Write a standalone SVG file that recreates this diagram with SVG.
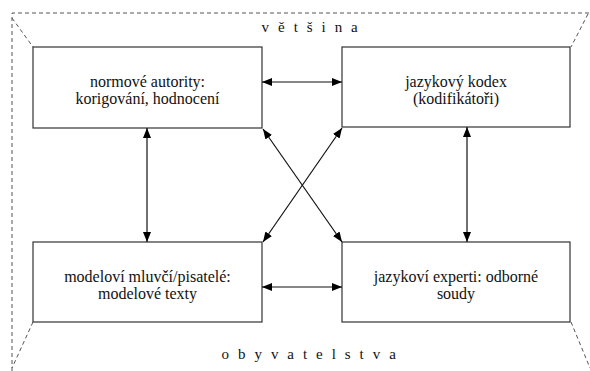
<svg xmlns="http://www.w3.org/2000/svg" width="590" height="371" viewBox="0 0 590 371">
<style>
.box{fill:#fff;stroke:#333;stroke-width:1.2}
.dash{fill:none;stroke:#555;stroke-width:1;stroke-dasharray:4,3}
.t{font-family:"Liberation Serif","Times New Roman",serif;font-size:16px;fill:#111;text-anchor:middle}
.sp{font-family:"Liberation Serif","Times New Roman",serif;font-size:15px;fill:#111;text-anchor:middle}
.c{stroke:#111;stroke-width:1.2;fill:none;marker-start:url(#a);marker-end:url(#a)}
</style>
<defs>
<marker id="a" viewBox="0 0 10 8" refX="10" refY="4" markerWidth="10" markerHeight="8" markerUnits="userSpaceOnUse" orient="auto-start-reverse">
<path d="M0,0 L10,4 L0,8 Z" fill="#000"/>
</marker>
</defs>
<rect width="590" height="371" fill="#fff"/>
<g id="frame">
<path class="dash" d="M12,371 L12,13 L590,13"/>
<path class="dash" d="M12,18 L33,47"/>
<path class="dash" d="M588,14 L571,47"/>
<path class="dash" d="M33,322 L12,368"/>
<path class="dash" d="M571,322 L590,368"/>
<text class="sp" x="311" y="32" letter-spacing="2.6">v ě t š i n a</text>
<text class="sp" x="310" y="359" letter-spacing="2.6">o b y v a t e l s t v a</text>
</g>
<g id="n1">
<rect class="box" x="33" y="47" width="229" height="81"/>
<text class="t" x="147.5" y="87">normové autority:</text>
<text class="t" x="147.5" y="104">korigování, hodnocení</text>
</g>
<g id="n2">
<rect class="box" x="342" y="47" width="228" height="80"/>
<text class="t" x="456" y="87">jazykový kodex</text>
<text class="t" x="456" y="104">(kodifikátoři)</text>
</g>
<g id="n3">
<rect class="box" x="33" y="242" width="229" height="80"/>
<text class="t" x="147.5" y="282">modeloví mluvčí/pisatelé:</text>
<text class="t" x="147.5" y="299">modelové texty</text>
</g>
<g id="n4">
<rect class="box" x="342" y="242" width="228" height="80"/>
<text class="t" x="456" y="282">jazykoví experti: odborné</text>
<text class="t" x="456" y="299">soudy</text>
</g>
<g id="connectors">
<line class="c" x1="262" y1="82" x2="342" y2="82"/>
<line class="c" x1="262" y1="287" x2="342" y2="287"/>
<line class="c" x1="147" y1="128" x2="147" y2="242"/>
<line class="c" x1="467" y1="127" x2="467" y2="242"/>
<line class="c" x1="263" y1="129" x2="342" y2="242"/>
<line class="c" x1="342" y1="128" x2="263" y2="242"/>
</g>
</svg>
